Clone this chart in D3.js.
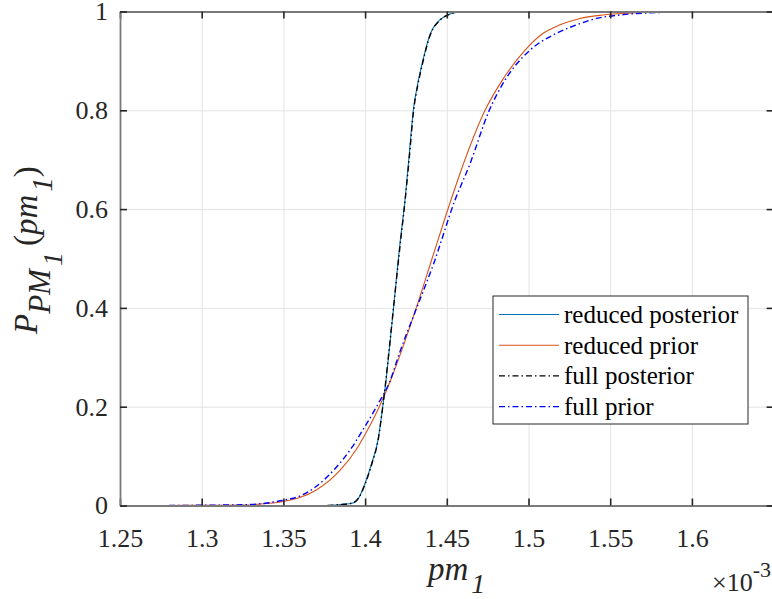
<!DOCTYPE html>
<html><head><meta charset="utf-8">
<script src="https://cdn.jsdelivr.net/npm/d3@7"></script>
<style>body{margin:0;background:#fff}svg{display:block}</style>
</head><body><svg id="c" width="772" height="599"></svg>
<script>
// ---- data ----
const xTickValues = [1.25, 1.3, 1.35, 1.4, 1.45, 1.5, 1.55, 1.6];
const xTickLabels = ["1.25", "1.3", "1.35", "1.4", "1.45", "1.5", "1.55", "1.6"];
const yTickValues = [0, 0.2, 0.4, 0.6, 0.8, 1];
const yTickLabels = ["0", "0.2", "0.4", "0.6", "0.8", "1"];
const seriesNames = ["reduced posterior", "reduced prior", "full posterior", "full prior"];

const redPostX = [1.378,1.385,1.3926,1.396,1.400,1.404,1.4079,1.4108,1.4128,1.4148,1.418,1.421,1.4244,1.427,1.4295,1.432,1.4346,1.4397,1.4458,1.452,1.458,1.467];
const redPostP = [0,0.002,0.005,0.015,0.045,0.085,0.133,0.20,0.253,0.315,0.42,0.52,0.618,0.71,0.80,0.85,0.89,0.953,0.983,0.995,0.999,1];
const redPriorX = [1.280,1.300,1.3255,1.340,1.3498,1.360,1.3704,1.3846,1.3949,1.401,1.4087,1.4152,1.4224,1.4313,1.441,1.4525,1.4611,1.4734,1.484,1.4979,1.509,1.5193,1.5315,1.5456,1.570,1.590,1.610];
const redPriorP = [0,0.0005,0.001,0.004,0.008,0.016,0.032,0.071,0.115,0.15,0.2,0.25,0.314,0.40,0.50,0.618,0.70,0.80,0.861,0.922,0.956,0.973,0.986,0.993,0.998,0.9995,1];
const fullPostX = [1.377,1.385,1.3922,1.396,1.4002,1.4042,1.408,1.4108,1.4127,1.4147,1.418,1.4212,1.4245,1.4272,1.4297,1.4322,1.4348,1.4399,1.446,1.4522,1.4585,1.468];
const fullPostP = [0,0.002,0.005,0.015,0.045,0.085,0.133,0.20,0.253,0.315,0.42,0.52,0.618,0.71,0.80,0.85,0.89,0.953,0.983,0.995,0.999,1];
const fullPriorX = [1.280,1.300,1.325,1.340,1.349,1.360,1.369,1.382,1.392,1.399,1.4075,1.415,1.4214,1.431,1.442,1.455,1.464,1.476,1.4856,1.501,1.5172,1.5295,1.5417,1.556,1.580,1.600,1.622];
const fullPriorP = [0,0.0005,0.0015,0.005,0.010,0.019,0.036,0.076,0.118,0.155,0.203,0.25,0.312,0.395,0.49,0.618,0.69,0.80,0.861,0.922,0.956,0.973,0.986,0.993,0.998,0.9995,1];

// ---- layout ----
const L = 120, R = 773.6, T = 11.5, B = 505.5;
const svg = d3.select("#c");
const x = d3.scaleLinear().domain([1.25, 1.65]).range([L, R]);
const y = d3.scaleLinear().domain([0, 1]).range([B, T]);
const serif = "'Liberation Serif', Tinos, 'Times New Roman', 'DejaVu Serif', serif";

svg.append("defs").append("clipPath").attr("id", "clip")
  .append("rect").attr("x", L).attr("y", T).attr("width", R - L).attr("height", B - T);

// grid
svg.append("g").attr("transform", `translate(0,${B})`)
  .call(d3.axisBottom(x).tickValues(xTickValues).tickSize(-(B - T)).tickFormat(""))
  .call(g => g.select(".domain").remove())
  .call(g => g.selectAll("line").attr("stroke", "#e3e3e3").attr("stroke-width", 1));
svg.append("g").attr("transform", `translate(${L},0)`)
  .call(d3.axisLeft(y).tickValues(yTickValues).tickSize(-(R - L)).tickFormat(""))
  .call(g => g.select(".domain").remove())
  .call(g => g.selectAll("line").attr("stroke", "#e3e3e3").attr("stroke-width", 1));

// curves
const series = [
  {xs: redPostX, ps: redPostP, color: "#0072BD", dash: null, w: 1.1},
  {xs: redPriorX, ps: redPriorP, color: "#D95319", dash: null, w: 1.1},
  {xs: fullPostX, ps: fullPostP, color: "#000000", dash: "6,3,1.5,3", w: 1.4},
  {xs: fullPriorX, ps: fullPriorP, color: "#0000FF", dash: "6,3,1.5,3", w: 1.4}
];
const line = d3.line().x(d => x(d[0])).y(d => y(d[1])).curve(d3.curveMonotoneX);
const plot = svg.append("g").attr("clip-path", "url(#clip)");
series.forEach(s => {
  plot.append("path").datum(s.xs.map((v, i) => [v, s.ps[i]]))
    .attr("fill", "none").attr("stroke", s.color).attr("stroke-width", s.w)
    .attr("stroke-dasharray", s.dash).attr("d", line);
});

// axes
const tickCol = "#262626", boxCol = "#7a7a7a";
function styleAxis(g) {
  g.attr("font-family", serif);
  g.select(".domain").attr("stroke", boxCol).attr("stroke-width", 1.8);
  g.selectAll(".tick line").attr("stroke", tickCol).attr("stroke-width", 1.6);
  g.selectAll("text").attr("font-family", serif).attr("font-size", 26).attr("fill", "#262626");
}
svg.append("g").attr("transform", `translate(0,${B})`)
  .call(d3.axisBottom(x).tickValues(xTickValues).tickSizeInner(-7).tickSizeOuter(0).tickPadding(23)
    .tickFormat((d, i) => xTickLabels[i]))
  .call(styleAxis);
svg.append("g").attr("transform", `translate(0,${T})`)
  .call(d3.axisTop(x).tickValues(xTickValues).tickSizeInner(-7).tickSizeOuter(0).tickFormat(""))
  .call(styleAxis);
svg.append("g").attr("transform", `translate(${L},0)`)
  .call(d3.axisLeft(y).tickValues(yTickValues).tickSizeInner(-7).tickSizeOuter(0).tickPadding(12)
    .tickFormat((d, i) => yTickLabels[i]))
  .call(styleAxis);
svg.append("g").attr("transform", `translate(${R},0)`)
  .call(d3.axisRight(y).tickValues(yTickValues).tickSizeInner(-7).tickSizeOuter(0).tickFormat(""))
  .call(styleAxis);

// labels
const xl = svg.append("text").attr("x", 428).attr("y", 580)
  .attr("font-family", serif).attr("font-size", 33).attr("font-style", "italic").attr("fill", "#262626");
xl.append("tspan").text("pm");
xl.append("tspan").attr("dx", 3).attr("dy", 13).attr("font-size", 28).text("1");

const yl = svg.append("text").attr("transform", "translate(37,334) rotate(-90)")
  .attr("font-family", serif).attr("font-size", 33).attr("font-style", "italic").attr("fill", "#262626");
yl.append("tspan").text("P");
yl.append("tspan").attr("dy", 13).attr("font-size", 31).text("PM");
yl.append("tspan").attr("dx", 3).attr("dy", 12).attr("font-size", 28).text("1");
yl.append("tspan").attr("dx", 6).attr("dy", -25).attr("font-style", "normal").text("(");
yl.append("tspan").text("pm");
yl.append("tspan").attr("dx", 3).attr("dy", 15).attr("font-size", 29).text("1");
yl.append("tspan").attr("dy", -15).attr("font-style", "normal").text(")");

const ex = svg.append("text").attr("x", 771).attr("y", 591).attr("text-anchor", "end")
  .attr("font-family", serif).attr("font-size", 26).attr("fill", "#262626");
ex.append("tspan").text("\u00d710");
ex.append("tspan").attr("dy", -14).attr("font-size", 22).text("-3");

// legend
const lg = svg.append("g");
lg.append("rect").attr("x", 493).attr("y", 296).attr("width", 255).attr("height", 128)
  .attr("fill", "#fff").attr("stroke", "#262626").attr("stroke-width", 1);
series.forEach((s, i) => {
  const yy = 314.5 + i * 30.7;
  lg.append("line").attr("x1", 499).attr("x2", 559).attr("y1", yy).attr("y2", yy)
    .attr("stroke", s.color).attr("stroke-width", s.w).attr("stroke-dasharray", s.dash);
  lg.append("text").attr("x", 564).attr("y", yy).attr("dominant-baseline", "central")
    .attr("font-family", serif).attr("font-size", 25).attr("fill", "#000").text(seriesNames[i]);
});
</script></body></html>
